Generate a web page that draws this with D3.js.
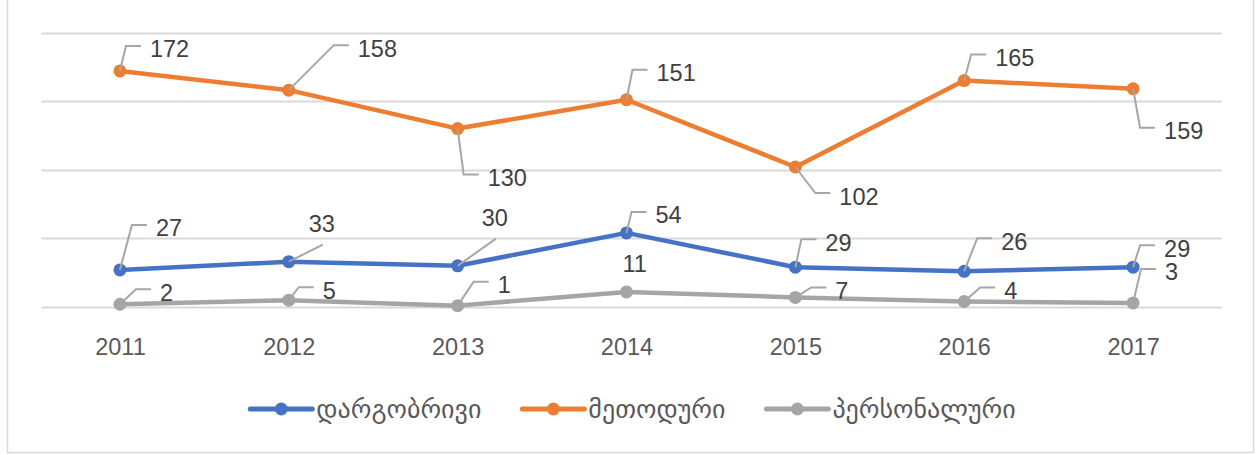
<!DOCTYPE html>
<html>
<head>
<meta charset="utf-8">
<script src="https://cdn.jsdelivr.net/npm/d3@7"></script>
<style>
  html, body { margin: 0; padding: 0; background: #fff; }
  svg { display: block; }
</style>
</head>
<body>
<div id="chart"></div>
<script>
// data
var years = ['2011', '2012', '2013', '2014', '2015', '2016', '2017'];
var dargobrivi = [27, 33, 30, 54, 29, 26, 29];
var metoduri = [172, 158, 130, 151, 102, 165, 159];
var personaluri = [2, 5, 1, 11, 7, 4, 3];
var seriesNames = ['დარგობრივი', 'მეთოდური', 'პერსონალური'];
var yTicks = [0, 50, 100, 150, 200];

// label placement: [dx, dy, leader kind] relative to the point
var dargobriviLabelPos = [[36, -42, 'side'], [20, -38, 'under'], [24, -48, 'under'], [29, -18, 'side'], [30, -25, 'side'], [37, -30, 'side'], [31, -19, 'side']];
var metoduriLabelPos = [[30, -22, 'side'], [69, -42, 'side'], [30, 49, 'side'], [30, -27, 'side'], [44, 29, 'side'], [31, -23, 'side'], [31, 42, 'side']];
var personaluriLabelPos = [[40, -12, 'side'], [34, -10, 'side'], [40, -21, 'side'], [-4, -28, 'none'], [40, -7, 'side'], [40, -11, 'side'], [32, -31, 'side']];

var W = 1256, H = 455;
var colors = ['#4472C4', '#ED7D31', '#A5A5A5'];
var series = [
    { name: seriesNames[0], values: dargobrivi, color: colors[0], labels: dargobriviLabelPos },
    { name: seriesNames[1], values: metoduri, color: colors[1], labels: metoduriLabelPos },
    { name: seriesNames[2], values: personaluri, color: colors[2], labels: personaluriLabelPos }
];

var svg = d3.select('#chart').append('svg')
    .attr('width', W)
    .attr('height', H);

// chart frame (top edge is cut off in the picture)
svg.append('path')
    .attr('d', 'M7.5,0 V452.5 H1253.5 V0')
    .attr('fill', 'none')
    .attr('stroke', '#d9d9d9')
    .attr('stroke-width', 1.5);

var x = d3.scalePoint().domain(years).range([35.5, 1217.5]).padding(0.5);
var y = d3.scaleLinear().domain([0, 200]).range([307, 32.5]);

// gridlines
svg.append('g').selectAll('line')
    .data(yTicks)
    .enter().append('line')
    .attr('x1', 41.5)
    .attr('x2', 1222)
    .attr('y1', function (d) { return Math.round(y(d)) + 0.5; })
    .attr('y2', function (d) { return Math.round(y(d)) + 0.5; })
    .attr('stroke', '#d9d9d9')
    .attr('stroke-width', 2);

// x axis labels
var xAxis = svg.append('g')
    .attr('transform', 'translate(0,' + 331 + ')')
    .call(d3.axisBottom(x).tickSize(0).tickPadding(0));
xAxis.select('.domain').remove();
xAxis.selectAll('text')
    .attr('dy', '0')
    .attr('y', 24)
    .attr('fill', '#595959')
    .style('font-family', '"Liberation Sans", Arial, sans-serif')
    .style('font-size', '23.5px');

var line = d3.line()
    .x(function (d, i) { return x(years[i]); })
    .y(function (d) { return y(d); });

// lines and markers
series.forEach(function (s) {
    svg.append('path')
        .datum(s.values)
        .attr('d', line)
        .attr('fill', 'none')
        .attr('stroke', s.color)
        .attr('stroke-width', 4.5)
        .attr('stroke-linejoin', 'round')
        .attr('stroke-linecap', 'round');
    svg.append('g').selectAll('circle')
        .data(s.values)
        .enter().append('circle')
        .attr('cx', function (d, i) { return x(years[i]); })
        .attr('cy', function (d) { return y(d); })
        .attr('r', 6.5)
        .attr('fill', s.color);
});

// leader lines + data labels
series.forEach(function (s) {
    var g = svg.append('g');
    s.values.forEach(function (v, i) {
        var px = x(years[i]), py = y(v);
        var pos = s.labels[i];
        var lx = px + pos[0], ly = py + pos[1];
        var pts = null;
        if (pos[2] == 'side') {
            pts = [[px, py], [lx - 24, ly - 3], [lx - 9, ly - 3]];
        } else if (pos[2] == 'under') {
            pts = [[px, py], [lx + 14, ly + 21]];
        }
        if (pts) {
            g.append('path')
                .attr('d', d3.line()(pts))
                .attr('fill', 'none')
                .attr('stroke', '#A6A6A6')
                .attr('stroke-width', 2);
        }
        g.append('text')
            .attr('x', lx)
            .attr('y', ly + 8.5)
            .attr('fill', '#404040')
            .style('font-family', '"Liberation Sans", Arial, sans-serif')
            .style('font-size', '23.5px')
            .text(v);
    });
});

// legend
var legend = svg.append('g');
var lx0 = 0;
series.forEach(function (s) {
    var it = legend.append('g');
    it.append('line')
        .attr('x1', 0).attr('x2', 62)
        .attr('y1', 0).attr('y2', 0)
        .attr('stroke', s.color)
        .attr('stroke-width', 5)
        .attr('stroke-linecap', 'round');
    it.append('circle')
        .attr('cx', 31).attr('cy', 0).attr('r', 6.5)
        .attr('fill', s.color);
    var t = it.append('text')
        .attr('x', 66)
        .attr('y', 8.5)
        .attr('fill', '#595959')
        .style('font-family', '"DejaVu Sans", sans-serif')
        .style('font-size', '26px')
        .text(s.name);
    var w = 66 + t.node().getComputedTextLength();
    it.attr('transform', 'translate(' + lx0 + ',0)');
    lx0 += w + 41;
});
var legendW = lx0 - 41;
legend.attr('transform', 'translate(' + (633 - legendW / 2) + ',409)');
</script>
</body>
</html>
